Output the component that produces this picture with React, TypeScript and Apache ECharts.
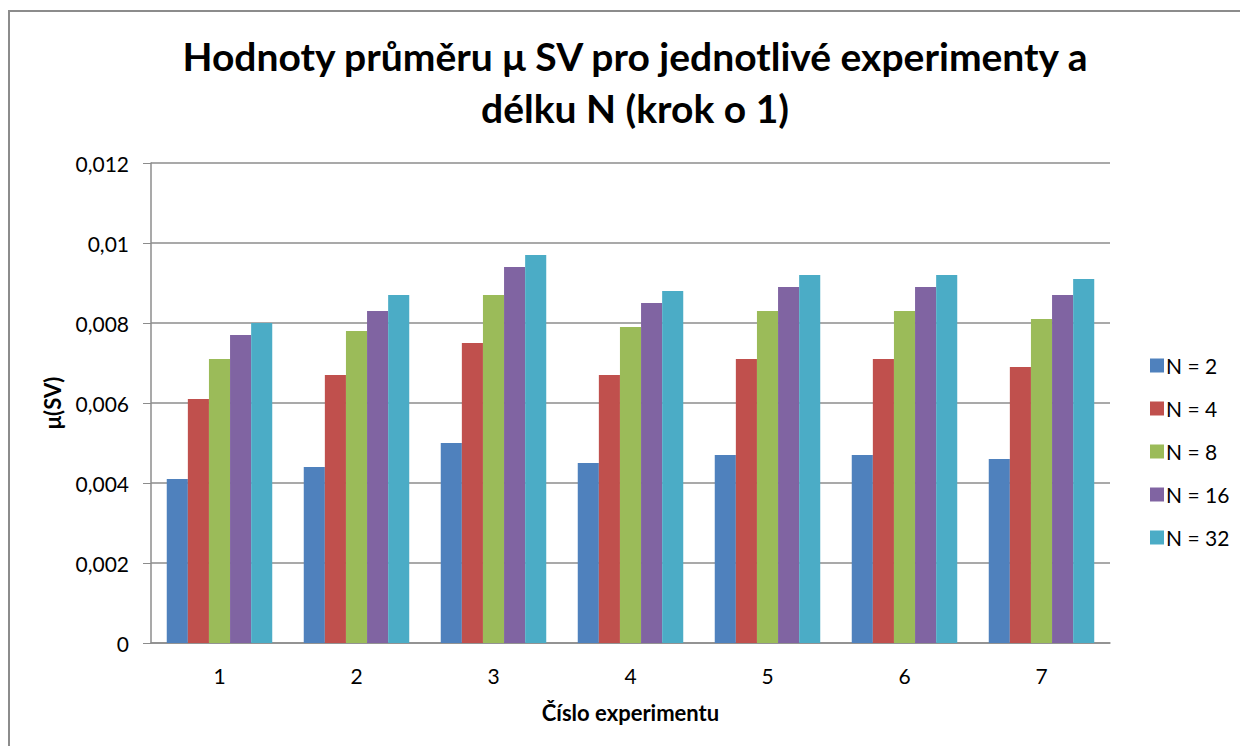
import React, { useEffect, useRef } from "react";
import * as echarts from "echarts";

const categories = ["1", "2", "3", "4", "5", "6", "7"];
const seriesNames = ["N = 2", "N = 4", "N = 8", "N = 16", "N = 32"];
const n2 = [0.0041, 0.0044, 0.005, 0.0045, 0.0047, 0.0047, 0.0046];
const n4 = [0.0061, 0.0067, 0.0075, 0.0067, 0.0071, 0.0071, 0.0069];
const n8 = [0.0071, 0.0078, 0.0087, 0.0079, 0.0083, 0.0083, 0.0081];
const n16 = [0.0077, 0.0083, 0.0094, 0.0085, 0.0089, 0.0089, 0.0087];
const n32 = [0.008, 0.0087, 0.0097, 0.0088, 0.0092, 0.0092, 0.0091];
const seriesValues = [n2, n4, n8, n16, n32];
const colors = ["#4F81BD", "#C0504D", "#9BBB59", "#8064A2", "#4BACC6"];

const titleText = "Hodnoty průměru μ SV pro jednotlivé experimenty a\ndélku N (krok o 1)";
const FONT = "Lato, 'Open Sans', sans-serif";

export default function App() {
  const ref = useRef<HTMLDivElement>(null);
  useEffect(() => {
    if (!ref.current) return;
    const chart = echarts.init(ref.current, null, { renderer: "svg" });
    chart.setOption({
      animation: false,
      backgroundColor: "#ffffff",
      textStyle: { fontFamily: FONT },
      graphic: [
        {
          type: "rect",
          shape: { x: 9, y: 11, width: 1260, height: 760 },
          style: { fill: "none", stroke: "#8c8c8c", lineWidth: 2 },
          silent: true,
        },
      ],
      title: {
        text: titleText,
        left: 630,
        top: 25,
        textAlign: "center",
        textStyle: {
          fontFamily: FONT,
          fontSize: 39,
          fontWeight: "bold",
          color: "#000",
          lineHeight: 52,
        },
      },
      legend: {
        orient: "vertical",
        left: 1145,
        top: 350,
        itemWidth: 14,
        itemHeight: 14,
        itemGap: 22,
        icon: "rect",
        data: seriesNames,
        textStyle: { fontFamily: FONT, fontSize: 21, color: "#000", padding: [0, 0, 0, -3] },
      },
      grid: { left: 151, right: 130, top: 163, bottom: 103, containLabel: false },
      xAxis: {
        type: "category",
        data: categories,
        name: "Číslo experimentu",
        nameLocation: "middle",
        nameGap: 58,
        nameTextStyle: { fontFamily: FONT, fontSize: 22, fontWeight: "bold", color: "#000" },
        axisLine: { lineStyle: { color: "#8c8c8c", width: 1.5 } },
        axisTick: { show: false },
        axisLabel: { fontFamily: FONT, fontSize: 21, color: "#000", margin: 22 },
      },
      yAxis: {
        type: "value",
        min: 0,
        max: 0.012,
        interval: 0.002,
        name: "μ(SV)",
        nameLocation: "middle",
        nameGap: 88,
        nameRotate: 90,
        nameTextStyle: { fontFamily: FONT, fontSize: 22, fontWeight: "bold", color: "#000" },
        axisLine: { show: true, lineStyle: { color: "#8c8c8c", width: 1.5 } },
        axisTick: { show: true, length: 8, inside: false, lineStyle: { color: "#8c8c8c" } },
        splitLine: { lineStyle: { color: "#8c8c8c", width: 1.5 } },
        axisLabel: {
          fontFamily: FONT,
          fontSize: 21,
          color: "#000",
          margin: 22,
          formatter: (v: number) => (v === 0 ? "0" : String(parseFloat(v.toFixed(4))).replace(".", ",")),
        },
      },
      series: seriesNames.map((name, i) => ({
        name,
        type: "bar",
        data: seriesValues[i],
        barGap: "0%",
        barCategoryGap: "23%",
        itemStyle: { color: colors[i] },
      })),
    });
    return () => chart.dispose();
  }, []);
  return (
    <div
      ref={ref}
      style={{ position: "fixed", left: 0, top: 0, width: 1240, height: 746 }}
    />
  );
}
